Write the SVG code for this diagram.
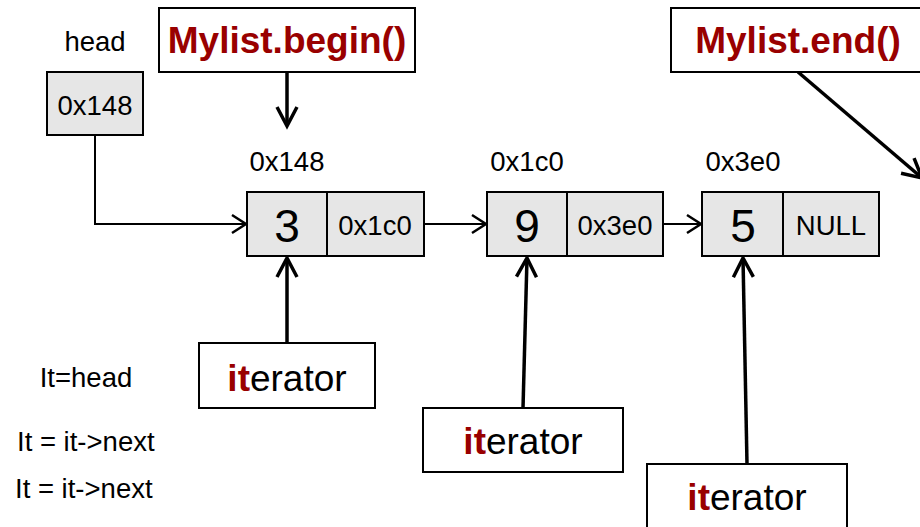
<svg xmlns="http://www.w3.org/2000/svg" width="920" height="527" viewBox="0 0 920 527">
<style>
text{font-family:"Liberation Sans",Arial,sans-serif;fill:#000}
.s{font-size:27.5px}
.big{font-size:46px}
.title{font-size:37px;font-weight:bold;fill:#990000}
.it{font-size:37px}
.red{fill:#990000;font-weight:bold}
.cell{fill:#e6e6e6;stroke:#000;stroke-width:2}
.box{fill:#fff;stroke:#000;stroke-width:2}
.c{fill:none;stroke:#000}
</style>
<defs>
<marker id="a1" markerUnits="userSpaceOnUse" viewBox="-18 -12 20 24" refX="0" refY="0" markerWidth="20" markerHeight="24" orient="auto" overflow="visible">
<path d="M-14,-9 L0,0 L-14,9" fill="none" stroke="#000" stroke-width="2.5"/>
</marker>
<marker id="a2" markerUnits="userSpaceOnUse" viewBox="-22 -13 24 26" refX="0" refY="0" markerWidth="24" markerHeight="26" orient="auto" overflow="visible">
<path d="M-19,-10 L0,0 L-19,10" fill="none" stroke="#000" stroke-width="3.5"/>
</marker>
</defs>
<g id="connectors">
<path class="c" d="M95,136 V224 H246" stroke-width="2" marker-end="url(#a1)"/>
<path class="c" d="M287,72 V126" stroke-width="3.5" marker-end="url(#a2)"/>
<path class="c" d="M424,224 H486" stroke-width="2" marker-end="url(#a1)"/>
<path class="c" d="M663,224 H701" stroke-width="2" marker-end="url(#a1)"/>
<path class="c" d="M798,72 L922,178" stroke-width="3.5" marker-end="url(#a2)"/>
<path class="c" d="M287,343 V258" stroke-width="3.5" marker-end="url(#a2)"/>
<path class="c" d="M523,408 L527,258" stroke-width="3.5" marker-end="url(#a2)"/>
<path class="c" d="M747,464 L743,258" stroke-width="3.5" marker-end="url(#a2)"/>
</g>
<g id="head">
<text class="s" x="95" y="51" text-anchor="middle">head</text>
<rect class="cell" x="47" y="72" width="96" height="63"/>
<text class="s" x="95" y="115" text-anchor="middle">0x148</text>
</g>
<g id="begin">
<rect class="box" x="159" y="8" width="256" height="64"/>
<text class="title" x="287" y="53" text-anchor="middle">Mylist.begin()</text>
</g>
<g id="end">
<rect class="box" x="671" y="8" width="260" height="64"/>
<text class="title" x="798" y="53" text-anchor="middle">Mylist.end()</text>
</g>
<g id="node1">
<text class="s" x="287" y="171" text-anchor="middle">0x148</text>
<rect class="cell" x="247" y="192" width="177" height="64"/>
<line x1="327" y1="192" x2="327" y2="256" stroke="#000" stroke-width="2"/>
<text class="big" x="287" y="242" text-anchor="middle">3</text>
<text class="s" x="375" y="235" text-anchor="middle">0x1c0</text>
</g>
<g id="node2">
<text class="s" x="527" y="171" text-anchor="middle">0x1c0</text>
<rect class="cell" x="487" y="192" width="176" height="64"/>
<line x1="567" y1="192" x2="567" y2="256" stroke="#000" stroke-width="2"/>
<text class="big" x="527" y="242" text-anchor="middle">9</text>
<text class="s" x="615" y="235" text-anchor="middle">0x3e0</text>
</g>
<g id="node3">
<text class="s" x="743" y="171" text-anchor="middle">0x3e0</text>
<rect class="cell" x="702" y="192" width="177" height="64"/>
<line x1="783" y1="192" x2="783" y2="256" stroke="#000" stroke-width="2"/>
<text class="big" x="743" y="242" text-anchor="middle">5</text>
<text class="s" x="831" y="235" text-anchor="middle">NULL</text>
</g>
<g id="iter1">
<rect class="box" x="199" y="343" width="176" height="65"/>
<text class="it" x="287" y="391" text-anchor="middle"><tspan class="red">it</tspan>erator</text>
</g>
<g id="iter2">
<rect class="box" x="423" y="408" width="200" height="64"/>
<text class="it" x="523" y="454" text-anchor="middle"><tspan class="red">it</tspan>erator</text>
</g>
<g id="iter3">
<rect class="box" x="647" y="464" width="200" height="70"/>
<text class="it" x="747" y="510" text-anchor="middle"><tspan class="red">it</tspan>erator</text>
</g>
<g id="code">
<text class="s" x="86" y="387" text-anchor="middle">It=head</text>
<text class="s" x="17" y="451">It = it-&gt;next</text>
<text class="s" x="15" y="498">It = it-&gt;next</text>
</g>
</svg>
